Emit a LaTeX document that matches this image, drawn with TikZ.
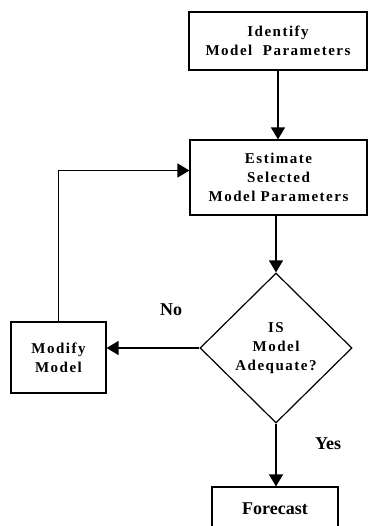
\documentclass[tikz,border=0pt]{standalone}
\usepackage{fontspec}
\setmainfont{Liberation Serif}
\newfontfamily\spacedfont[LetterSpace=10]{Liberation Serif}
\usetikzlibrary{shapes.geometric}
\usetikzlibrary{arrows.meta}

\tikzset{
  boxtext/.style={font=\spacedfont\fontsize{15}{19}\selectfont\bfseries},
  box/.style={draw, line width=1.2pt, align=center, inner sep=0pt, boxtext},
  decision/.style={draw, diamond, line width=1.2pt, align=center, inner sep=0pt, boxtext},
  lbl/.style={font=\fontsize{18}{20}\selectfont\bfseries},
  arr/.style={line width=1.5pt, -{Triangle[width=14pt,length=12pt]}}
}

\begin{document}
\begin{tikzpicture}[x=1pt,y=-1pt]
\useasboundingbox (0,0) rectangle (371,526);
\node (ident) [box, minimum width=178pt, minimum height=58pt]
       at (278,41) {Identify\\Model \ Parameters};
\node (estim) [box, minimum width=177pt, minimum height=75pt]
       at (278.5,177.5) {Estimate\\Selected\\Model Parameters};
\node (adeq) [decision, minimum width=152pt, minimum height=150pt]
       at (276,348) {IS\\Model\\Adequate?};
\node (modify) [box, minimum width=95pt, minimum height=71pt]
       at (58.5,357.5) {Modify\\Model};
\node (fcast) [box, minimum width=126pt, minimum height=43pt,
       font=\fontsize{18}{20}\selectfont\bfseries]
       at (275,508.5) {Forecast};
\node (no) [lbl] at (171,310) {No};
\node (yes) [lbl] at (328,444) {Yes};
% connectors
\draw [arr] (ident.south) -- (ident.south |- estim.north);
\draw [arr] (estim.south -| adeq.north) -- (adeq.north);
\draw [arr] (adeq.west) -- (adeq.west -| modify.east);
\draw [arr] (modify.north) |- ([yshift=7pt]estim.west);
\draw [arr] (adeq.south) -- (adeq.south |- fcast.north);
\end{tikzpicture}
\end{document}
